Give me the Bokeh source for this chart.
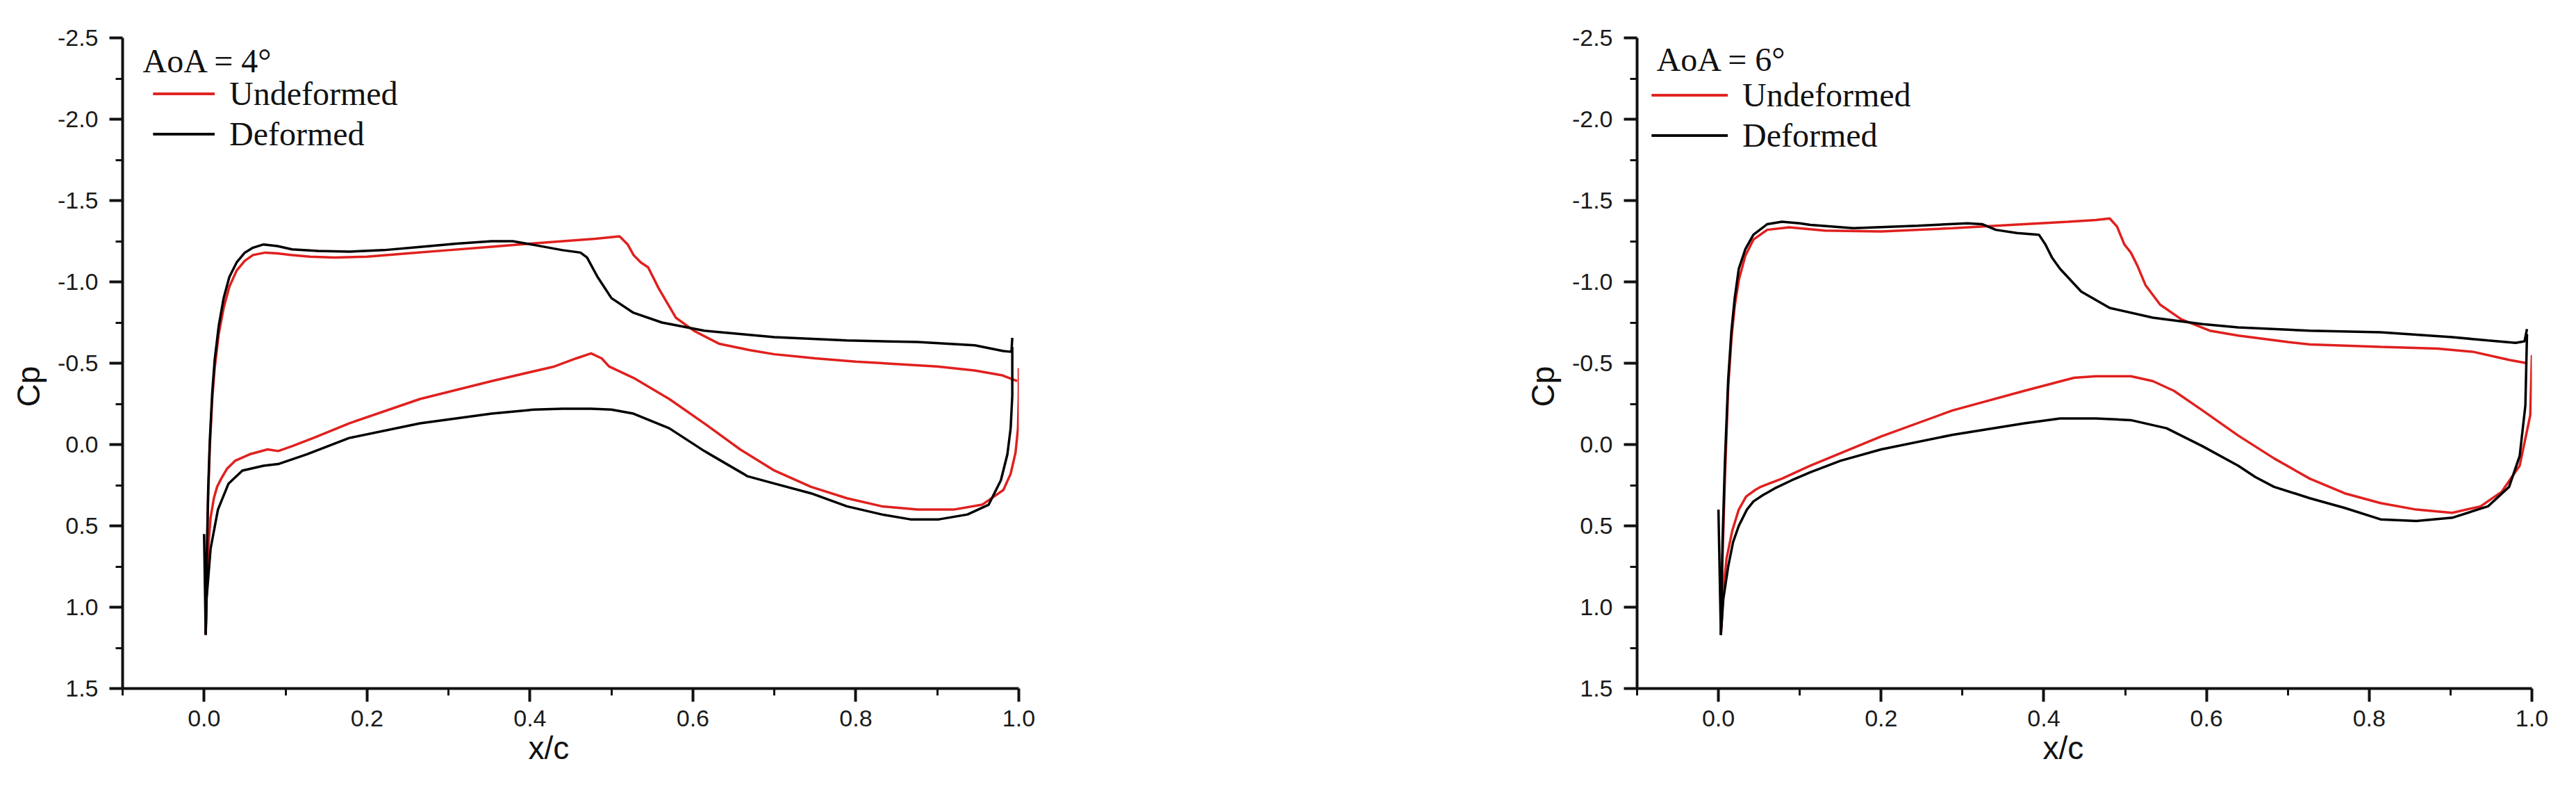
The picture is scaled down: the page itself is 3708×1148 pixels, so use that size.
from bokeh.plotting import figure
from bokeh.models import (Range1d, FixedTicker, PrintfTickFormatter, Legend, LegendItem, Label, Title)
from bokeh.layouts import row
from bokeh.embed import file_html
from bokeh.resources import INLINE

# ---------------- data ----------------
# AoA = 4 deg
x4_und_up = [0.002, 0.003, 0.005, 0.007, 0.010, 0.013, 0.018, 0.024, 0.031, 0.040, 0.050, 0.060, 0.075, 0.090, 0.108,
             0.130, 0.160, 0.200, 0.250, 0.300, 0.350, 0.400, 0.440, 0.480, 0.510, 0.520, 0.527, 0.536, 0.545, 0.558,
             0.579, 0.601, 0.632, 0.670, 0.700, 0.750, 0.800, 0.850, 0.900, 0.946, 0.980, 0.998]
cp4_und_up = [1.17, 0.80, 0.32, 0.02, -0.28, -0.47, -0.68, -0.84, -0.97, -1.07, -1.13, -1.165, -1.18, -1.175, -1.165,
              -1.155, -1.15, -1.155, -1.175, -1.195, -1.215, -1.235, -1.25, -1.265, -1.28, -1.23, -1.166, -1.12, -1.09, -0.96,
              -0.78, -0.70, -0.62, -0.58, -0.555, -0.53, -0.51, -0.495, -0.48, -0.455, -0.425, -0.39]
x4_und_lo = [0.002, 0.003, 0.005, 0.008, 0.012, 0.016, 0.021, 0.028, 0.038, 0.056, 0.078, 0.091, 0.108, 0.134, 0.178,
             0.265, 0.353, 0.430, 0.457, 0.475, 0.488, 0.497, 0.527, 0.571, 0.614, 0.658, 0.700, 0.745, 0.789, 0.832,
             0.876, 0.920, 0.955, 0.981, 0.990, 0.996, 0.999, 1.000, 1.000]
cp4_und_lo = [1.17, 0.95, 0.64, 0.45, 0.33, 0.26, 0.21, 0.15, 0.10, 0.06, 0.03, 0.04, 0.01, -0.04, -0.13,
              -0.28, -0.39, -0.48, -0.53, -0.56, -0.53, -0.48, -0.41, -0.28, -0.13, 0.03, 0.16, 0.26, 0.33, 0.38,
              0.40, 0.40, 0.37, 0.28, 0.18, 0.05, -0.10, -0.30, -0.47]
x4_def_up = [0.000, 0.002, 0.003, 0.005, 0.007, 0.010, 0.013, 0.018, 0.024, 0.031, 0.040, 0.050, 0.060, 0.073, 0.090,
             0.108, 0.140, 0.178, 0.220, 0.265, 0.310, 0.353, 0.379, 0.405, 0.440, 0.462, 0.470, 0.483, 0.500, 0.527,
             0.562, 0.614, 0.700, 0.789, 0.876, 0.946, 0.981, 0.991, 0.992]
cp4_def_up = [0.55, 1.17, 0.78, 0.28, -0.02, -0.32, -0.52, -0.73, -0.90, -1.03, -1.12, -1.18, -1.21, -1.23, -1.22,
              -1.20, -1.19, -1.186, -1.195, -1.215, -1.235, -1.25, -1.25, -1.227, -1.195, -1.18, -1.15, -1.03, -0.90, -0.81,
              -0.75, -0.70, -0.66, -0.64, -0.63, -0.61, -0.575, -0.57, -0.656]
x4_def_lo = [0.002, 0.003, 0.008, 0.017, 0.030, 0.047, 0.073, 0.091, 0.126, 0.178, 0.265, 0.353, 0.405, 0.440, 0.475,
             0.500, 0.527, 0.571, 0.614, 0.662, 0.667, 0.700, 0.745, 0.789, 0.832, 0.867, 0.902, 0.937, 0.963, 0.978,
             0.986, 0.990, 0.992, 0.992]
cp4_def_lo = [1.17, 0.95, 0.64, 0.40, 0.24, 0.16, 0.13, 0.12, 0.06, -0.04, -0.13, -0.19, -0.215, -0.22, -0.22,
              -0.215, -0.19, -0.10, 0.04, 0.18, 0.195, 0.24, 0.30, 0.38, 0.43, 0.46, 0.46, 0.43, 0.37, 0.22,
              0.06, -0.10, -0.30, -0.60]

# AoA = 6 deg
x6_und_up = [0.003, 0.005, 0.008, 0.012, 0.016, 0.020, 0.025, 0.033, 0.043, 0.060, 0.087, 0.131, 0.200, 0.288, 0.376,
             0.430, 0.464, 0.481, 0.490, 0.499, 0.507, 0.515, 0.525, 0.543, 0.569, 0.604, 0.639, 0.700, 0.727, 0.814,
             0.884, 0.928, 0.972, 0.994]
cp6_und_up = [1.17, 0.70, 0.20, -0.35, -0.65, -0.85, -1.01, -1.16, -1.26, -1.32, -1.335, -1.315, -1.31, -1.33, -1.355,
              -1.37, -1.38, -1.39, -1.34, -1.23, -1.18, -1.10, -0.98, -0.86, -0.77, -0.70, -0.67, -0.63, -0.615, -0.60,
              -0.59, -0.57, -0.52, -0.50]
x6_und_lo = [0.003, 0.006, 0.010, 0.017, 0.025, 0.034, 0.045, 0.052, 0.078, 0.113, 0.200, 0.288, 0.376, 0.437, 0.464,
             0.507, 0.534, 0.560, 0.595, 0.639, 0.683, 0.727, 0.770, 0.814, 0.858, 0.902, 0.937, 0.963, 0.985, 0.998,
             1.000]
cp6_und_lo = [1.17, 0.90, 0.70, 0.53, 0.40, 0.32, 0.28, 0.26, 0.21, 0.13, -0.05, -0.21, -0.33, -0.41, -0.42,
              -0.42, -0.39, -0.33, -0.21, -0.055, 0.085, 0.21, 0.30, 0.36, 0.40, 0.42, 0.38, 0.29, 0.13, -0.18,
              -0.55]
x6_def_up = [0.000, 0.003, 0.005, 0.008, 0.012, 0.016, 0.020, 0.025, 0.033, 0.043, 0.060, 0.078, 0.100, 0.113, 0.166,
             0.245, 0.306, 0.324, 0.341, 0.367, 0.394, 0.402, 0.410, 0.420, 0.446, 0.481, 0.534, 0.595, 0.639, 0.727,
             0.814, 0.902, 0.946, 0.980, 0.991, 0.994]
cp6_def_up = [0.40, 1.17, 0.60, 0.10, -0.40, -0.70, -0.90, -1.08, -1.20, -1.29, -1.355, -1.37, -1.36, -1.35, -1.33,
              -1.345, -1.36, -1.355, -1.32, -1.30, -1.29, -1.23, -1.15, -1.08, -0.94, -0.84, -0.78, -0.74, -0.72, -0.70,
              -0.69, -0.66, -0.64, -0.625, -0.635, -0.71]
x6_def_lo = [0.003, 0.006, 0.012, 0.018, 0.025, 0.035, 0.043, 0.055, 0.069, 0.090, 0.113, 0.150, 0.200, 0.288, 0.376,
             0.420, 0.464, 0.507, 0.551, 0.595, 0.639, 0.660, 0.683, 0.727, 0.770, 0.814, 0.858, 0.902, 0.946, 0.972,
             0.985, 0.992, 0.994]
cp6_def_lo = [1.17, 0.95, 0.75, 0.60, 0.50, 0.40, 0.35, 0.31, 0.27, 0.22, 0.17, 0.10, 0.03, -0.06, -0.13,
              -0.16, -0.16, -0.15, -0.10, 0.01, 0.13, 0.20, 0.26, 0.33, 0.39, 0.46, 0.47, 0.45, 0.38, 0.26,
              0.07, -0.24, -0.68]

x_major = [0.0, 0.2, 0.4, 0.6, 0.8, 1.0]
x_minor = [-0.1, 0.1, 0.3, 0.5, 0.7, 0.9]
y_major = [-2.5, -2.0, -1.5, -1.0, -0.5, 0.0, 0.5, 1.0, 1.5]
y_minor = [-2.25, -1.75, -1.25, -0.75, -0.25, 0.25, 0.75, 1.25]

series_names = ["Undeformed", "Deformed"]
panel_titles = ["AoA = 4\u00b0", "AoA = 6\u00b0"]
x_label = "x/c"
y_label = "Cp"

RED = "#e0201e"
BLACK = "#000000"
SANS = "Liberation Sans"
SERIF = "Liberation Serif"


def make_panel(width, border_left, border_right, border_top, border_bottom,
               und_up, und_lo, def_up, def_lo, title, legend_loc, glyph_w, aoa_xy):
    p = figure(width=width, height=1130, output_backend="svg", toolbar_location=None,
               x_range=Range1d(-0.1, 1.0), y_range=Range1d(1.5, -2.5),
               min_border_left=border_left, min_border_right=border_right,
               min_border_top=border_top, min_border_bottom=border_bottom)
    p.grid.visible = False
    p.outline_line_color = None
    p.background_fill_color = "white"
    p.border_fill_color = "white"

    r1 = p.line(und_up[0], und_up[1], line_color=RED, line_width=3.5)
    r2 = p.line(und_lo[0], und_lo[1], line_color=RED, line_width=3.5)
    r3 = p.line(def_up[0], def_up[1], line_color=BLACK, line_width=3.5)
    r4 = p.line(def_lo[0], def_lo[1], line_color=BLACK, line_width=3.5)

    p.xaxis.ticker = FixedTicker(ticks=x_major, minor_ticks=x_minor)
    p.yaxis.ticker = FixedTicker(ticks=y_major, minor_ticks=y_minor)
    p.xaxis.formatter = PrintfTickFormatter(format="%.1f")
    p.yaxis.formatter = PrintfTickFormatter(format="%.1f")
    for ax in (p.xaxis, p.yaxis):
        ax.axis_line_width = 4
        ax.axis_line_color = "#111111"
        ax.major_tick_line_width = 4
        ax.minor_tick_line_width = 3
        ax.major_tick_line_color = "#111111"
        ax.minor_tick_line_color = "#111111"
        ax.major_tick_in = 0
        ax.major_tick_out = 19
        ax.minor_tick_in = 0
        ax.minor_tick_out = 10
        ax.major_label_text_font = SANS
        ax.major_label_text_font_size = "34px"
        ax.major_label_text_color = "#1a1a1a"
    p.yaxis.major_label_standoff = 16
    p.xaxis.major_label_standoff = 12

    # axis titles placed outside the axes (offset so they sit where the original has them)
    p.add_layout(Title(text=x_label, align="left", offset=584, standoff=0,
                       text_font=SANS, text_font_size="46px", text_font_style="normal",
                       text_color="#111111"), "below")
    p.add_layout(Title(text=y_label, align="left", offset=405, standoff=25,
                       text_font=SANS, text_font_size="46px", text_font_style="normal",
                       text_color="#111111"), "left")

    legend = Legend(items=[LegendItem(label=series_names[0], renderers=[r1, r2]),
                           LegendItem(label=series_names[1], renderers=[r3, r4])],
                    location=legend_loc, padding=0, margin=0, spacing=3,
                    glyph_width=glyph_w, glyph_height=55, label_height=55, label_standoff=21,
                    label_text_font=SERIF, label_text_font_size="48px", label_text_color="#111111",
                    border_line_alpha=0, background_fill_alpha=0)
    p.add_layout(legend)

    p.add_layout(Label(x=aoa_xy[0], y=aoa_xy[1], x_units="screen", y_units="screen", text=title,
                       text_font=SERIF, text_font_size="48px", text_color="#111111",
                       text_baseline="alphabetic", text_align="left"))
    return p


p1 = make_panel(1526, 176, 60, 54, 130,
                (x4_und_up, cp4_und_up), (x4_und_lo, cp4_und_lo),
                (x4_def_up, cp4_def_up), (x4_def_lo, cp4_def_lo),
                panel_titles[0], (44, 770), 89, (29, 903))
p2 = make_panel(2158, 830, 40, 44, 140,
                (x6_und_up, cp6_und_up), (x6_und_lo, cp6_und_lo),
                (x6_def_up, cp6_def_up), (x6_def_lo, cp6_def_lo),
                panel_titles[1], (21, 768), 110, (28, 905))

layout = row(p1, p2)
open("out.html", "w").write(file_html(layout, INLINE))
